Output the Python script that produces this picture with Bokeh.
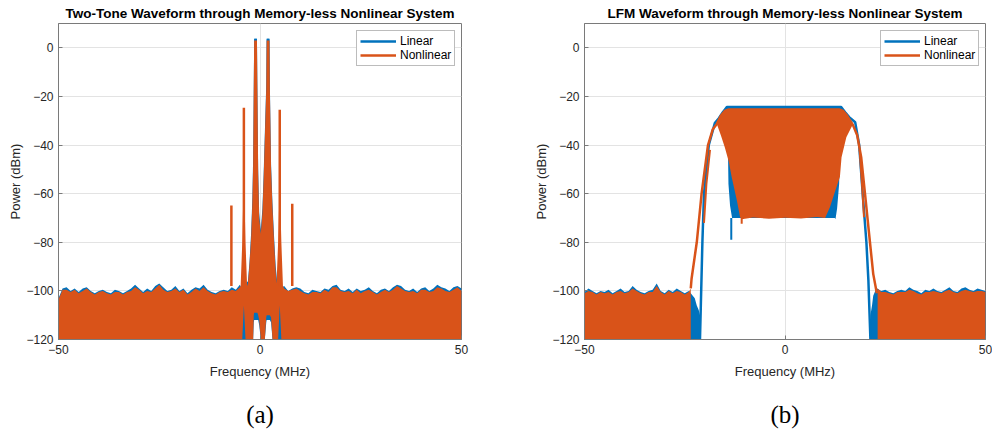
from bokeh.plotting import figure
from bokeh.models import Range1d, FixedTicker, Legend, LegendItem, LinearAxis
from bokeh.layouts import row
from bokeh.embed import file_html
from bokeh.resources import INLINE

BLUE = "#0072BD"
ORANGE = "#D95319"
AXC = "#262626"

X_TICKS = [-50, 0, 50]
Y_TICKS = [-120, -100, -80, -60, -40, -20, 0]

# ---------------- (a) Two-tone ----------------
a_noise_lf = list(range(-50, -8))
a_lin_noise_l = [-103, -99, -98.5, -100, -99, -100.5, -99, -98.5, -100, -101, -100, -99.5, -100.5, -101,
                 -99.5, -100, -101, -100, -99, -97.5, -99, -100.5, -99, -100, -98, -97, -98.5, -100,
                 -99.5, -98, -100, -99, -101, -99.5, -98.5, -99, -97.5, -99.5, -100.5, -101, -100, -99.5]
a_nl_noise_l = [-103.5, -99.5, -99.5, -100.5, -99.5, -101, -100, -99, -100.5, -101.5, -100.5, -100, -101,
                -101.5, -100.5, -100.5, -101.5, -100.5, -100, -98.5, -99.5, -101, -100, -100.5, -99, -97.5,
                -99.5, -100.5, -100, -99, -100.5, -99.5, -101.5, -100.5, -99, -100, -98.5, -100, -101,
                -101.5, -100.5, -100]
a_noise_rf = list(range(10, 51))
a_lin_noise_r = [-99, -100.5, -101, -99.5, -100, -100.5, -99, -99.5, -98, -97.5, -99.5, -100, -99, -100.5,
                 -99, -100, -99.5, -98.5, -100, -101, -99.5, -99, -100, -98.5, -97.5, -98, -99.5, -100,
                 -99, -100.5, -99, -98.5, -100, -99, -97.5, -98.5, -99, -100, -98.5, -98, -99]
a_nl_noise_r = [-100, -101, -101.5, -100.5, -100.5, -101, -99.5, -100.5, -98.5, -98.5, -100, -100.5, -100,
                -101, -99.5, -101, -100, -99.5, -100.5, -101.5, -100.5, -99.5, -100.5, -99.5, -98, -99,
                -100, -100.5, -100, -101, -99.5, -99.5, -100.5, -100, -98.5, -99, -100, -100.5, -99.5,
                -98.5, -100]

a_lin_cf = [-8, -7, -6, -5, -4.5, -4, -3.5, -3.0, -2.6, -2.2, -1.9, -1.7, -1.55, -1.45, -0.75, -0.65,
            -0.45, -0.2, 0.2, 0.6, 0.9, 1.2, 1.55, 1.65, 2.35, 2.45, 2.75, 3.1, 3.5, 3.9, 4.3, 5, 6, 7, 8, 9]
a_lin_ctop = [-100, -98.5, -99.5, -97.5, -99, -100, -97, -96, -88, -76, -62, -45, -15, 3.7, 3.7, -15,
              -50, -68, -75, -66, -52, -35, -15, 3.7, 3.7, -15, -48, -64, -78, -90, -97, -99, -98, -100, -99, -98.5]
a_lin_clow = [-120, -120, -120, -120, -120, -120, -120, -120, -120, -120, -120, -120, -113, -112, -112, -112,
              -112, -114, -120, -120, -120, -120, -113, -112, -112, -112, -113, -120, -120, -120, -120, -120,
              -120, -120, -120, -120]
a_tone_f = [-1.1, 2.0]
a_tone_peak = [3.7, 3.7]
a_tone_base = [-20, -20]

a_nl_cf = [-8, -7, -6, -5, -4.8, -4.4, -4.0, -3.6, -3.2, -3.0, -2.6, -2.2, -1.9, -1.7, -1.55, -1.45,
           -0.75, -0.65, -0.45, -0.2, 0.2, 0.6, 0.9, 1.2, 1.55, 1.65, 2.35, 2.45, 2.75, 3.1, 3.5, 3.9,
           4.1, 4.5, 4.9, 5.3, 5.7, 6, 7, 8, 9]
a_nl_ctop = [-100.5, -99.5, -100, -98.5, -98, -80, -50, -80, -98, -97, -89, -78, -64, -48, -17, 3,
             3, -17, -52, -70, -76.5, -68, -54, -37, -17, 3, 3, -17, -50, -66, -80, -92,
             -97, -80, -55, -80, -98, -99, -100, -99.5, -99]
a_nl_clow = [-120, -120, -120, -120, -120, -120, -106, -120, -120, -120, -120, -120, -120, -120, -110, -109,
             -109, -109, -110, -112, -120, -120, -120, -120, -111, -110, -110, -110, -111, -120, -120, -120,
             -120, -120, -106, -120, -120, -120, -120, -120, -120]

a_spike_f = [-7.1, -4.0, 4.9, 8.0]
a_spike_peak = [-64.9, -24.7, -25.5, -64.2]
a_spike_base = [-98, -98, -98, -98]

# ---------------- (b) LFM ----------------
b_lin_noise_lf = list(range(-50, -23)) + [-23.5, -23, -22.5, -22, -21.5, -21.2]
b_lin_noise_lt = [-100.5, -99, -100, -101, -100, -100.5, -99.5, -101, -100, -99, -100.5, -100, -98, -99.5,
                  -100.5, -101, -100, -99.5, -97, -100, -101, -99.5, -100.5, -99, -100, -101, -100,
                  -101, -102, -103, -106, -108, -110]
b_nl_noise_lf = list(range(-50, -23)) + [-23.5]
b_nl_noise_lt = [-101, -100, -100.5, -101.5, -100.5, -101, -100.5, -101.5, -100.5, -100, -101, -100.5, -99,
                 -100, -101, -101.5, -100.5, -100.5, -98, -100.5, -101.5, -100, -101, -100, -100.5, -101.5,
                 -100.5, -99]
b_lin_noise_rf = [21.3, 21.7, 22, 22.5, 23] + list(range(24, 51))
b_lin_noise_rt = [-110, -106, -102, -100, -99,
                  -100, -99.5, -100.5, -101, -100, -99.5, -100, -98.5, -99.5, -100, -101, -99.5, -100, -99,
                  -100, -100.5, -99.5, -98.5, -100, -100.5, -99, -98.5, -99.5, -100, -99, -99.5, -100]
b_nl_noise_rf = [23.1] + list(range(24, 51))
b_nl_noise_rt = [-99,
                 -100.5, -100.5, -101, -101.5, -100.5, -100.5, -100.5, -99.5, -100, -101, -101.5, -100.5,
                 -100.5, -100, -100.5, -101, -100, -99.5, -100.5, -101, -100, -99.5, -100, -100.5, -100,
                 -100, -100.5]

b_lin_edge_f = [-21.2, -20.6, -20.2, -19.0, -17.5, -16.5, -15.5, -14.5, 14.0, 15.0, 16.0, 17.5, 18.5,
                19.5, 20.3, 20.8, 21.3]
b_lin_edge_p = [-120, -80, -60, -40, -31, -29, -26.5, -24.4, -24.4, -26.5, -28.5, -30.6, -40,
                -62.8, -80, -95.8, -120]
b_lin_osc_f = [-14.5, -14.25, -14.1, -13.7, -13.2, 12.4, 12.6, 13.0, 13.5, 13.8, 14.0]
b_lin_osc_top = [-24.4, -24.4, -24.4, -24.4, -24.4, -24.4, -24.4, -24.4, -24.4, -24.4, -24.4]
b_lin_osc_low = [-30, -40, -56, -65, -70, -70, -70.4, -66, -56, -40, -30]
b_lin_dip_f = [-13.4]
b_lin_dip_from = [-70]
b_lin_dip_to = [-79]

b_nl_edge_f = [-23.5, -23.3, -22.0, -20.8, -19.2, -18.0, -17.0, -16.0, -15.0, -14.0, 13.5, 14.5, 15.5,
               16.9, 18.0, 19.0, 20.0, 21.0, 22.0, 22.9]
b_nl_edge_p = [-99, -95, -80, -60, -40, -33.5, -31.3, -28, -26, -25.4, -25.4, -26, -28,
               -31.6, -36, -45, -60.8, -77, -93, -101]
b_nl_branch_f = [[-20.2, -19.6, -18.7], [18.6, 19.2, 19.7]]
b_nl_branch_p = [[-72, -56, -42], [-42, -56, -69.7]]
b_nl_osc_f = [-17.0, -16.0, -15.0, -14.0, -13.3, -12.0, -11.2, -10.8, -8.0, -4.0, 0.0, 4.0, 8.0, 10.0,
              11.2, 12.5, 13.7, 14.1, 15.3, 16.9]
b_nl_osc_top = [-31.3, -28, -26, -25.4, -25.4, -25.4, -25.4, -25.4, -25.4, -25.4, -25.4, -25.4, -25.4, -25.4,
                -25.4, -25.4, -25.4, -25.6, -27.5, -31.6]
b_nl_osc_low = [-31.3, -36, -41, -47, -53.2, -62.8, -69.7, -70.5, -69.8, -70.3, -69.9, -70.2, -69.6, -70,
                -65.6, -59, -53, -45, -36.8, -31.6]
b_nl_dip_f = [-10.8]
b_nl_dip_from = [-70]
b_nl_dip_to = [-72.4]


def floor_of(values):
    return [-120 for _ in values]


def make_fig(title, label, bl, br):
    p = figure(width=496, height=432, x_range=Range1d(-50, 50), y_range=Range1d(-120, 10),
               output_backend="svg", toolbar_location=None,
               min_border_left=bl, min_border_right=br, min_border_top=23, min_border_bottom=93,
               x_axis_label="Frequency (MHz)", y_axis_label="Power (dBm)")
    p.outline_line_color = "#7a7a7a"
    p.outline_line_width = 1
    p.background_fill_color = "white"
    p.border_fill_color = "white"
    p.title.text = title
    p.title.align = "center"
    p.title.text_font = "Liberation Sans"
    p.title.text_font_size = "13.5px"
    p.title.text_font_style = "bold"
    p.title.text_color = "#000000"
    p.title.standoff = 5

    for ax in (p.xaxis[0], p.yaxis[0]):
        ax.major_label_text_font = "Liberation Sans"
        ax.major_label_text_font_size = "12px"
        ax.major_label_text_color = AXC
        ax.axis_label_text_font = "Liberation Sans"
        ax.axis_label_text_font_size = "13px"
        ax.axis_label_text_font_style = "normal"
        ax.axis_label_text_color = AXC
        ax.axis_line_color = "#7a7a7a"
        ax.major_tick_line_color = "#7a7a7a"
        ax.major_tick_in = 4
        ax.major_tick_out = 0
        ax.minor_tick_line_color = None
    p.xaxis[0].major_label_standoff = 5
    p.xaxis[0].axis_label_standoff = 7
    p.yaxis[0].major_label_standoff = 5
    p.yaxis[0].axis_label_standoff = 0
    p.xaxis[0].ticker = FixedTicker(ticks=X_TICKS)
    p.yaxis[0].ticker = FixedTicker(ticks=Y_TICKS)

    p.xgrid.ticker = FixedTicker(ticks=X_TICKS)
    p.ygrid.ticker = FixedTicker(ticks=Y_TICKS)
    p.grid.grid_line_color = "#e3e3e3"
    p.grid.grid_line_width = 1

    cap = LinearAxis(ticker=FixedTicker(ticks=[]), axis_label=label,
                     axis_line_color=None, major_tick_line_color=None, minor_tick_line_color=None,
                     axis_label_text_font="Liberation Serif", axis_label_text_font_size="25px",
                     axis_label_text_font_style="normal", axis_label_text_color="#000000",
                     axis_label_standoff=19, major_label_standoff=0,
                     major_tick_in=0, major_tick_out=0)
    p.add_layout(cap, "below")
    return p


def add_legend(p, x_off, r1, r2):
    leg = Legend(items=[LegendItem(label="Linear", renderers=[r1]),
                        LegendItem(label="Nonlinear", renderers=[r2])],
                 location=(x_off, 273), margin=0, padding=3, spacing=0,
                 glyph_width=36, glyph_height=14, label_height=14, label_standoff=4,
                 label_text_font="Liberation Sans", label_text_font_size="12px",
                 label_text_color="#000000", border_line_color="#7a7a7a",
                 background_fill_color="white", background_fill_alpha=1.0)
    p.add_layout(leg)


# ---- panel (a)
pa = make_fig("Two-Tone Waveform through Memory-less Nonlinear System", "(a)", 58, 35)
lin_f = a_noise_lf + a_lin_cf + a_noise_rf
lin_top = a_lin_noise_l + a_lin_ctop + a_lin_noise_r
lin_low = floor_of(a_noise_lf) + a_lin_clow + floor_of(a_noise_rf)
pa.varea(x=lin_f, y1=lin_low, y2=lin_top, fill_color=BLUE)
ra1 = pa.segment(x0=a_tone_f, y0=a_tone_base, x1=a_tone_f, y1=a_tone_peak,
                 line_color=BLUE, line_width=2.5)
nl_f = a_noise_lf + a_nl_cf + a_noise_rf
nl_top = a_nl_noise_l + a_nl_ctop + a_nl_noise_r
nl_low = floor_of(a_noise_lf) + a_nl_clow + floor_of(a_noise_rf)
pa.varea(x=nl_f, y1=nl_low, y2=nl_top, fill_color=ORANGE)
ra2 = pa.segment(x0=a_spike_f, y0=a_spike_base, x1=a_spike_f, y1=a_spike_peak,
                 line_color=ORANGE, line_width=2.5)
add_legend(pa, 298, ra1, ra2)

# ---- panel (b)
pb = make_fig("LFM Waveform through Memory-less Nonlinear System", "(b)", 88, 7)
pb.varea(x=b_lin_noise_lf, y1=floor_of(b_lin_noise_lf), y2=b_lin_noise_lt, fill_color=BLUE)
pb.varea(x=b_lin_noise_rf, y1=floor_of(b_lin_noise_rf), y2=b_lin_noise_rt, fill_color=BLUE)
rb1 = pb.line(x=b_lin_edge_f, y=b_lin_edge_p, line_color=BLUE, line_width=2.5)
pb.varea(x=b_lin_osc_f, y1=b_lin_osc_low, y2=b_lin_osc_top, fill_color=BLUE)
pb.segment(x0=b_lin_dip_f, y0=b_lin_dip_from, x1=b_lin_dip_f, y1=b_lin_dip_to,
           line_color=BLUE, line_width=2)

pb.varea(x=b_nl_noise_lf, y1=floor_of(b_nl_noise_lf), y2=b_nl_noise_lt, fill_color=ORANGE)
pb.varea(x=b_nl_noise_rf, y1=floor_of(b_nl_noise_rf), y2=b_nl_noise_rt, fill_color=ORANGE)
rb2 = pb.line(x=b_nl_edge_f, y=b_nl_edge_p, line_color=ORANGE, line_width=2.5)
pb.multi_line(xs=b_nl_branch_f, ys=b_nl_branch_p, line_color=ORANGE, line_width=2)
pb.varea(x=b_nl_osc_f, y1=b_nl_osc_low, y2=b_nl_osc_top, fill_color=ORANGE)
pb.segment(x0=b_nl_dip_f, y0=b_nl_dip_from, x1=b_nl_dip_f, y1=b_nl_dip_to,
           line_color=ORANGE, line_width=2)
add_legend(pb, 296, rb1, rb2)

layout = row(pa, pb)
open("out.html", "w").write(file_html(layout, INLINE))
